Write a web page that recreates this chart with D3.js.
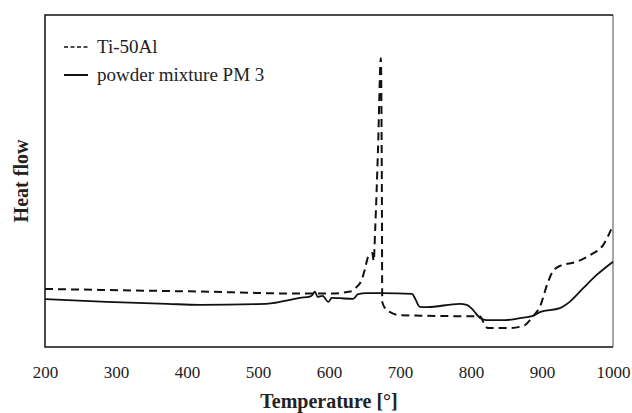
<!DOCTYPE html>
<html>
<head>
<meta charset="utf-8">
<script src="https://cdn.jsdelivr.net/npm/d3@7"></script>
<style>
    body { margin: 0; background: #fff; }
    svg text { font-family: "Liberation Serif", "Times New Roman", serif; fill: #222; }
</style>
</head>
<body>
<svg id="dsc" width="632" height="413"></svg>
<script>
// heat flow in arbitrary units (0 = plot bottom, 100 = plot top)
let tiTemp = [200, 277, 418, 559, 601, 630, 637, 646, 651, 655, 661, 663, 665, 669, 673, 674.5, 675, 679, 686, 700, 770, 813, 820, 824, 855, 876, 883, 890, 897, 908, 915, 925, 949, 968, 986, 1000];
let tiFlow = [17.5, 17.2, 16.7, 16.1, 16.1, 16.7, 17.7, 20.2, 23.8, 27.1, 28.3, 25.9, 35.2, 59.3, 87.0, 44.3, 13.6, 11.7, 10.5, 9.6, 9.3, 9.2, 6.3, 5.7, 5.7, 6.6, 8.1, 9.9, 12.1, 19.3, 22.7, 24.4, 25.7, 27.7, 30.7, 36.7];

let pmTemp = [200, 287, 372, 418, 499, 521, 545, 559, 573, 577, 580, 584, 591, 599, 604, 615, 634, 641, 653, 675, 717, 721, 728, 738, 784, 794, 803, 813, 822, 848, 869, 887, 897, 925, 939, 958, 977, 1000];
let pmFlow = [14.4, 13.6, 13.0, 12.7, 12.9, 13.2, 14.2, 14.8, 15.2, 15.8, 16.7, 15.1, 15.4, 13.6, 14.8, 14.7, 14.5, 15.9, 16.2, 16.2, 16.0, 14.7, 12.1, 12.0, 13.0, 12.7, 11.1, 8.7, 8.1, 8.1, 8.7, 9.4, 10.5, 11.7, 13.6, 17.7, 21.7, 25.7];

let xTicks = [200, 300, 400, 500, 600, 700, 800, 900, 1000];
let legendLabels = ["Ti-50Al", "powder mixture PM 3"];

let svg = d3.select("svg#dsc"),
    margin = {top: 15, right: 19, bottom: 66, left: 45},
    width = +svg.attr("width") - margin.left - margin.right,
    height = +svg.attr("height") - margin.top - margin.bottom,
    g = svg.append("g").attr("transform", "translate(" + margin.left + "," + margin.top + ")");

let x = d3.scaleLinear()
    .domain([200, 1000])
    .range([0, width]);
let y = d3.scaleLinear()
    .domain([0, 100])
    .range([height, 0]);

let line = d3.line()
    .curve(d3.curveMonotoneX)
    .x(function(d) { return x(d[0]); })
    .y(function(d) { return y(d[1]); });

// frame
g.append("line")
    .attr("x1", width).attr("x2", width)
    .attr("y1", 0).attr("y2", height)
    .attr("stroke", "#888").attr("stroke-width", 1.5);
g.append("path")
    .attr("d", "M" + width + ",0H0V" + height + "H" + width)
    .attr("fill", "none")
    .attr("stroke", "#111")
    .attr("stroke-width", 1.5);

let xAxis = g.append("g")
    .attr("transform", "translate(0," + height + ")")
    .call(d3.axisBottom(x).tickValues(xTicks).tickSize(0).tickPadding(19).tickFormat(d3.format("d")));
xAxis.select(".domain").remove();
xAxis.selectAll("text")
    .attr("font-family", null)
    .style("font-size", "17px");

g.append("path")
    .datum(d3.zip(tiTemp, tiFlow))
    .attr("d", line)
    .attr("fill", "none")
    .attr("stroke", "#111")
    .attr("stroke-width", 2)
    .attr("stroke-dasharray", "8,5");

g.append("path")
    .datum(d3.zip(pmTemp, pmFlow))
    .attr("d", line)
    .attr("fill", "none")
    .attr("stroke", "#111")
    .attr("stroke-width", 1.8)
    .attr("stroke-linejoin", "round");

// legend
let legend = svg.append("g").attr("transform", "translate(64,0)");
legendLabels.forEach(function(label, i) {
    let row = legend.append("g").attr("transform", "translate(0," + (47 + i * 28) + ")");
    row.append("line")
        .attr("x1", 0).attr("x2", 24)
        .attr("stroke", "#111")
        .attr("stroke-width", i == 0 ? 1.3 : 2)
        .attr("stroke-dasharray", i == 0 ? "4,2.5" : null);
    row.append("text")
        .attr("x", 33)
        .attr("y", 5.5)
        .style("font-size", "19px")
        .text(label);
});

// axis titles
svg.append("text")
    .attr("x", margin.left + width / 2)
    .attr("y", 408)
    .attr("text-anchor", "middle")
    .style("font-size", "20px")
    .style("font-weight", "bold")
    .text("Temperature [°]");

svg.append("text")
    .attr("transform", "translate(28," + (margin.top + height / 2) + ") rotate(-90)")
    .attr("text-anchor", "middle")
    .style("font-size", "20px")
    .style("font-weight", "bold")
    .text("Heat flow");
</script>
</body>
</html>
